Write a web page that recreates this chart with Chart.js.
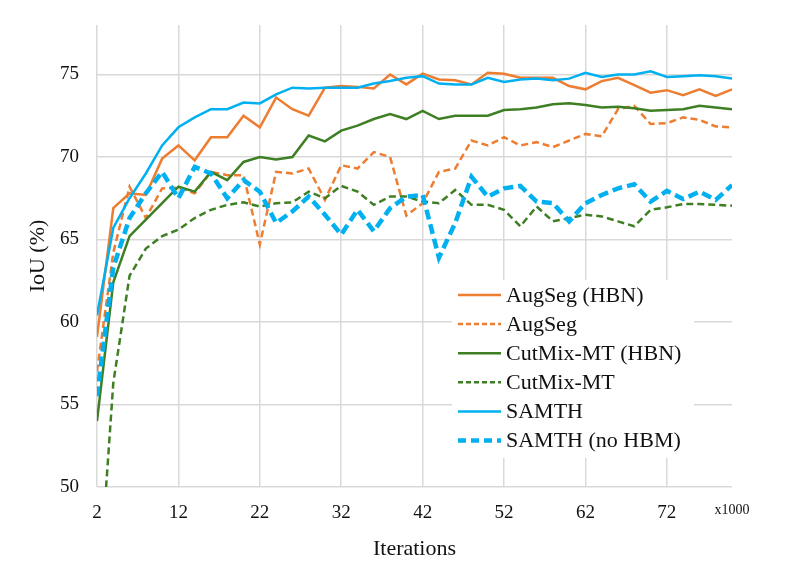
<!DOCTYPE html>
<html>
<head>
<meta charset="utf-8">
<script src="https://cdn.jsdelivr.net/npm/chart.js@4/dist/chart.umd.min.js"></script>
<style>
  html, body { margin: 0; padding: 0; background: #fff; }
  canvas { display: block; }
</style>
</head>
<body>
<canvas id="iouChart" width="797" height="564"></canvas>
<script>
// iterations (x1000)
const iterations = [2, 4, 6, 8, 10, 12, 14, 16, 18, 20, 22, 24, 26, 28, 30, 32, 34, 36, 38, 40,
  42, 44, 46, 48, 50, 52, 54, 56, 58, 60, 62, 64, 66, 68, 70, 72, 74, 76, 78, 80];

const augSegHbn = [59.1, 66.9, 67.8, 67.7, 69.9, 70.7, 69.8, 71.2, 71.2, 72.5, 71.8, 73.6, 72.9, 72.5, 74.2, 74.3, 74.25, 74.15, 75.0, 74.4,
  75.05, 74.7, 74.65, 74.4, 75.1, 75.05, 74.8, 74.8, 74.8, 74.3, 74.1, 74.6, 74.8, 74.35, 73.9, 74.05, 73.75, 74.1, 73.7, 74.1];
const augSeg = [57.0, 64.2, 68.2, 66.3, 68.1, 68.15, 67.8, 69.1, 68.9, 68.9, 64.7, 69.1, 69.0, 69.3, 67.4, 69.5, 69.3, 70.3, 70.0, 66.45,
  67.2, 69.1, 69.3, 71.0, 70.7, 71.2, 70.7, 70.9, 70.6, 71.0, 71.4, 71.25, 72.9, 73.1, 72.0, 72.05, 72.4, 72.25, 71.85, 71.8];
const cutMixHbn = [54.0, 62.4, 65.2, 66.2, 67.2, 68.2, 67.9, 69.1, 68.6, 69.7, 70.0, 69.85, 70.0, 71.3, 70.95, 71.6, 71.9, 72.3, 72.6, 72.3,
  72.8, 72.3, 72.5, 72.5, 72.5, 72.85, 72.9, 73.0, 73.2, 73.25, 73.15, 73.0, 73.05, 72.95, 72.8, 72.85, 72.9, 73.1, 73.0, 72.9];
const cutMix = [42.0, 56.3, 62.8, 64.45, 65.2, 65.6, 66.3, 66.8, 67.1, 67.25, 67.0, 67.2, 67.25, 67.9, 67.5, 68.25, 67.9, 67.1, 67.6, 67.6,
  67.3, 67.2, 68.0, 67.1, 67.1, 66.8, 65.8, 67.0, 66.1, 66.3, 66.5, 66.4, 66.1, 65.8, 66.8, 66.95, 67.15, 67.15, 67.1, 67.05];
const samth = [60.4, 65.7, 67.5, 69.0, 70.7, 71.8, 72.4, 72.9, 72.9, 73.3, 73.25, 73.8, 74.2, 74.15, 74.2, 74.2, 74.2, 74.45, 74.6, 74.8,
  74.9, 74.45, 74.4, 74.4, 74.8, 74.55, 74.7, 74.75, 74.65, 74.75, 75.1, 74.85, 75.0, 75.0, 75.2, 74.85, 74.9, 74.95, 74.9, 74.75];
const samthNoHbm = [55.5, 63.3, 66.3, 67.8, 69.1, 67.5, 69.4, 69.0, 67.5, 68.6, 67.9, 66.0, 66.7, 67.6, 66.5, 65.3, 66.8, 65.5, 66.9, 67.6,
  67.7, 63.9, 66.0, 68.8, 67.6, 68.1, 68.25, 67.3, 67.2, 66.1, 67.2, 67.7, 68.1, 68.35, 67.3, 67.95, 67.45, 67.9, 67.4, 68.3];

const seriesNames = ['AugSeg (HBN)', 'AugSeg', 'CutMix-MT (HBN)', 'CutMix-MT', 'SAMTH', 'SAMTH (no HBM)'];
const xTickValues = [2, 12, 22, 32, 42, 52, 62, 72, 80];
const xTickLabels = ['2', '12', '22', '32', '42', '52', '62', '72', 'x1000'];
const yTickValues = [50, 55, 60, 65, 70, 75];

const ORANGE = '#ed7d31';
const GREEN = '#3f7f24';
const BLUE = '#00b0f0';
const SERIF = '"Liberation Serif", "Times New Roman", serif';

function pts(ys) {
  return ys.map((y, i) => ({ x: iterations[i], y }));
}

const styles = [
  { color: ORANGE, width: 2.5, dash: [] },
  { color: ORANGE, width: 2.5, dash: [7, 4] },
  { color: GREEN, width: 2.5, dash: [] },
  { color: GREEN, width: 2.5, dash: [7, 4] },
  { color: BLUE, width: 2.5, dash: [] },
  { color: BLUE, width: 4.5, dash: [10, 5] },
];
const allSeries = [augSegHbn, augSeg, cutMixHbn, cutMix, samth, samthNoHbm];

const datasets = allSeries.map((ys, i) => ({
  label: seriesNames[i],
  data: pts(ys),
  borderColor: styles[i].color,
  backgroundColor: styles[i].color,
  borderWidth: styles[i].width,
  borderDash: styles[i].dash,
  borderCapStyle: 'butt',
  pointRadius: 0,
  tension: 0,
  order: 5 - i,
}));

// legend drawn inside the plot, bottom right, on a white box
const innerLegend = {
  id: 'innerLegend',
  afterDatasetsDraw(chart) {
    const ctx = chart.ctx;
    const x0 = 452, y0 = 280, w = 242, h = 178;
    ctx.save();
    ctx.fillStyle = '#fff';
    ctx.fillRect(x0, y0, w, h);
    ctx.font = '22px ' + SERIF;
    ctx.textBaseline = 'middle';
    ctx.fillStyle = '#111';
    seriesNames.forEach((name, i) => {
      const y = 295 + i * 29.1;
      const st = styles[i];
      ctx.beginPath();
      ctx.strokeStyle = st.color;
      ctx.lineWidth = st.width;
      ctx.setLineDash(i === 5 ? [8, 5] : (st.dash.length ? [5, 3] : []));
      ctx.moveTo(458, y);
      ctx.lineTo(501, y);
      ctx.stroke();
      ctx.setLineDash([]);
      ctx.fillText(name, 506, y + 1);
    });
    ctx.restore();
  }
};

new Chart(document.getElementById('iouChart').getContext('2d'), {
  type: 'line',
  data: { datasets },
  options: {
    responsive: false,
    animation: false,
    devicePixelRatio: 1,
    layout: { padding: { left: 25, right: 65, top: 25, bottom: 2 } },
    plugins: { legend: { display: false }, tooltip: { enabled: false } },
    scales: {
      x: {
        type: 'linear',
        min: 2,
        max: 80,
        afterBuildTicks: (s) => { s.ticks = xTickValues.map(v => ({ value: v })); },
        afterFit: (s) => { s.height = 75; },
        border: { display: false },
        grid: {
          drawTicks: false,
          lineWidth: 1.5,
          color: (c) => (c.tick && c.tick.value === 80 ? 'rgba(0,0,0,0)' : '#d9d9d9'),
        },
        ticks: {
          padding: 15,
          maxRotation: 0,
          autoSkip: false,
          color: '#111',
          font: (c) => (c.index === xTickLabels.length - 1
            ? { family: SERIF, size: 14 } : { family: SERIF, size: 19 }),
          callback: (v, i) => xTickLabels[i],
        },
        title: {
          display: true,
          text: 'Iterations',
          color: '#111',
          font: { family: SERIF, size: 22 },
          padding: { top: 0, bottom: 0 },
        },
      },
      y: {
        min: 50,
        max: 78,
        afterBuildTicks: (s) => { s.ticks = yTickValues.map(v => ({ value: v })); },
        // fixed width, and no extra top/bottom room for the tick labels
        afterFit: (s) => { s.width = 72; s.paddingTop = 0; s.paddingBottom = 0; },
        border: { display: false },
        grid: { drawTicks: false, lineWidth: 1.5, color: '#d9d9d9' },
        ticks: {
          padding: 18,
          color: '#111',
          font: { family: SERIF, size: 19 },
        },
        title: {
          display: true,
          text: 'IoU (%)',
          color: '#111',
          font: { family: SERIF, size: 22 },
          padding: { top: 0, bottom: 0 },
        },
      },
    },
  },
  plugins: [innerLegend],
});
</script>
</body>
</html>
